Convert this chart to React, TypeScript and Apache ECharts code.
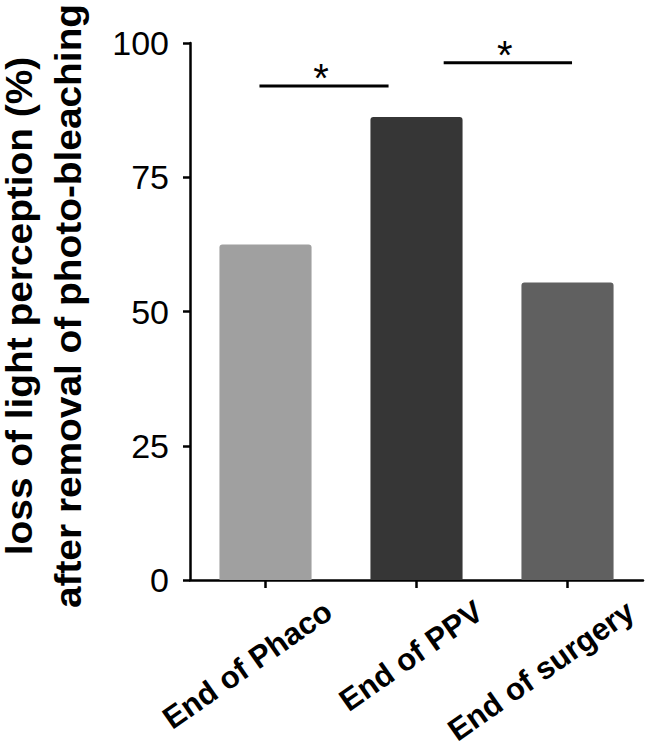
import React, { useEffect, useRef } from "react";
import * as echarts from "echarts";

const categories = ["End of Phaco", "End of PPV", "End of surgery"];
const values = [62.5, 86.2, 55.4];
const barColors = ["#a0a0a0", "#363636", "#606060"];
const yTicks = [0, 25, 50, 75, 100];
const titleLines = ["loss of light perception (%)", "after removal of photo-bleaching"];
// significance brackets: from/to in category units, y in data units
const sigFrom = [-0.04, 1.18];
const sigTo = [0.815, 2.03];
const sigY = [92.0, 96.3];
const sigLabel = ["*", "*"];

const FONT = "'Liberation Sans', Arial, sans-serif";

export default function App() {
  const ref = useRef<HTMLDivElement>(null);
  useEffect(() => {
    if (!ref.current) return;
    const chart = echarts.init(ref.current, undefined, { renderer: "svg" });
    const option: any = {
      animation: false,
      backgroundColor: "#ffffff",
      grid: { left: 190, right: 3, top: 43, bottom: 172, outerBoundsMode: "none" },
      xAxis: {
        type: "category",
        data: categories,
        axisLine: { show: true, lineStyle: { color: "#000", width: 2.5 } },
        axisTick: { show: true, alignWithLabel: true, length: 8, lineStyle: { color: "#000", width: 2.5 } },
        axisLabel: { show: false },
        splitLine: { show: false },
      },
      yAxis: {
        type: "value",
        min: yTicks[0],
        max: yTicks[yTicks.length - 1],
        interval: 25,
        axisLine: { show: true, lineStyle: { color: "#000", width: 2.5 } },
        axisTick: { show: true, length: 7, lineStyle: { color: "#000", width: 2.5 } },
        axisLabel: { fontSize: 34, fontFamily: FONT, color: "#000", margin: 21 },
        splitLine: { show: false },
      },
      series: [
        {
          type: "bar",
          barWidth: "61%",
          data: values.map((v, i) => ({
            value: v,
            itemStyle: { color: barColors[i], borderRadius: [3, 3, 0, 0] },
          })),
        },
      ],
    };
    chart.setOption(option);

    const c0 = chart.convertToPixel({ xAxisIndex: 0 }, 0) as number;
    const c1 = chart.convertToPixel({ xAxisIndex: 0 }, 1) as number;
    const band = c1 - c0;
    const y0 = chart.convertToPixel({ yAxisIndex: 0 }, 0) as number;

    const graphics: any[] = [];
    // title
    titleLines.forEach((t, i) => {
      graphics.push({
        type: "text",
        x: 19 + i * 49,
        y: 306,
        rotation: Math.PI / 2,
        scaleX: 1.05,
        style: {
          text: t,
          font: `bold 37px ${FONT}`,
          fill: "#000",
          align: "center",
          verticalAlign: "middle",
          textAlign: "center",
          textVerticalAlign: "middle",
        },
      });
    });
    // x labels
    categories.forEach((cat, i) => {
      const px = chart.convertToPixel({ xAxisIndex: 0 }, i) as number;
      graphics.push({
        type: "text",
        x: px + 63,
        y: y0 + 28,
        rotation: (35 * Math.PI) / 180,
        style: {
          text: cat,
          font: `bold 31px ${FONT}`,
          fill: "#000",
          align: "right",
          verticalAlign: "middle",
          textAlign: "right",
          textVerticalAlign: "middle",
        },
      });
    });
    // significance
    sigFrom.forEach((f, i) => {
      const x1 = c0 + f * band;
      const x2 = c0 + sigTo[i] * band;
      const y = chart.convertToPixel({ yAxisIndex: 0 }, sigY[i]) as number;
      graphics.push({
        type: "line",
        shape: { x1, y1: y, x2, y2: y },
        style: { stroke: "#000", lineWidth: 3 },
      });
      graphics.push({
        type: "text",
        x: (x1 + x2) / 2 - 3,
        y: y - 8,
        style: {
          text: sigLabel[i],
          font: `40px ${FONT}`,
          fill: "#000",
          align: "center",
          verticalAlign: "middle",
          textAlign: "center",
          textVerticalAlign: "middle",
        },
      });
    });
    chart.setOption({ graphic: graphics });

    return () => chart.dispose();
  }, []);
  return (
    <div
      ref={ref}
      style={{ position: "fixed", left: 0, top: 0, width: 646, height: 752, background: "#fff" }}
    />
  );
}
